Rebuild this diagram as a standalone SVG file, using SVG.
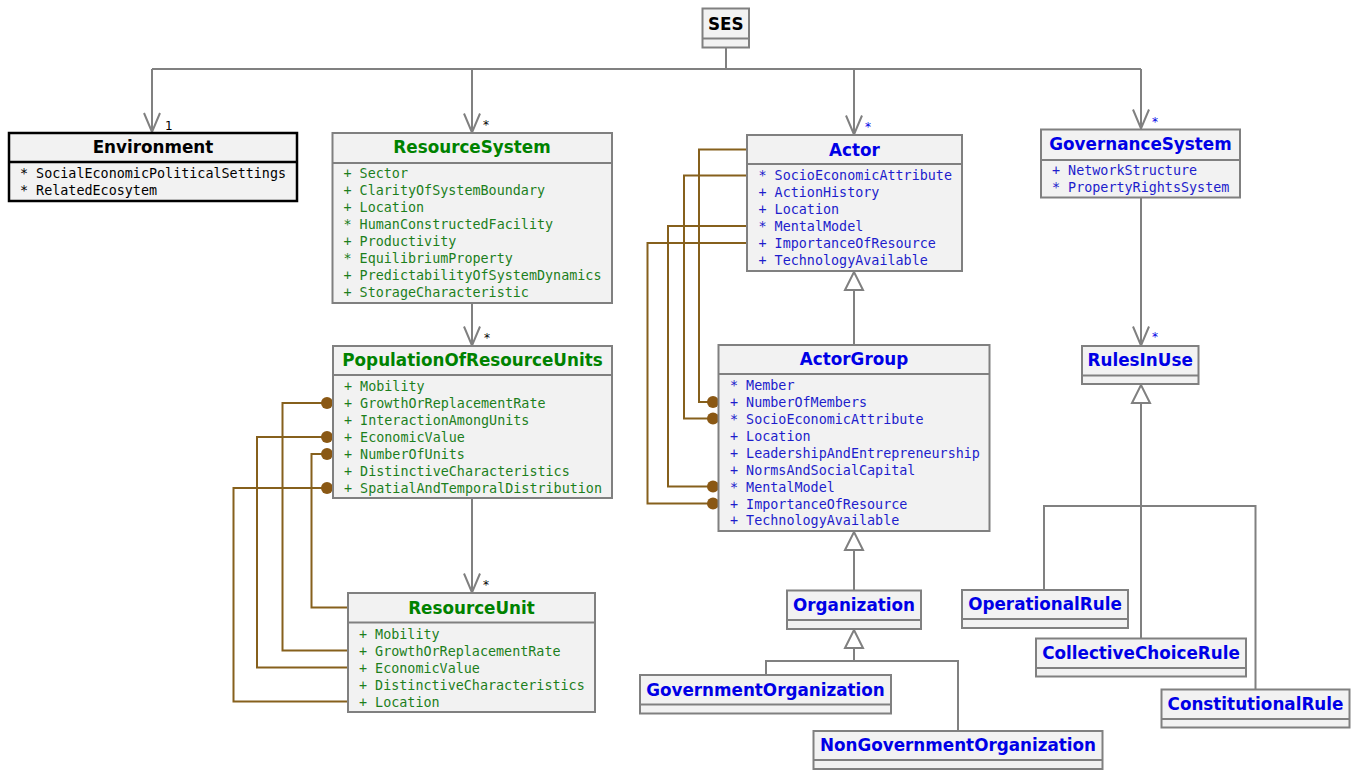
<svg xmlns="http://www.w3.org/2000/svg" width="1351" height="780" viewBox="0 0 1351 780">
<defs>
<marker id="open" markerUnits="userSpaceOnUse" markerWidth="22" markerHeight="20" viewBox="0 0 22 20" refX="20" refY="10" orient="auto">
<path d="M1,2 L20,10 L1,18" fill="none" stroke="#808080" stroke-width="2"/>
</marker>
<marker id="tri" markerUnits="userSpaceOnUse" markerWidth="22" markerHeight="22" viewBox="0 0 22 22" refX="20" refY="11" orient="auto">
<path d="M2,2 L20,11 L2,20 Z" fill="#ffffff" stroke="#808080" stroke-width="2"/>
</marker>
<style>
.box{fill:#f2f2f2;stroke:#808080;stroke-width:2}
.env{fill:#f2f2f2;stroke:#000;stroke-width:2.5}
.div{stroke:#808080;stroke-width:2}
.divk{stroke:#000;stroke-width:2.5}
.t{font-family:"DejaVu Sans","Liberation Sans",sans-serif;font-weight:bold;font-size:16.8px;text-anchor:middle}
.a{font-family:"DejaVu Sans Mono","Liberation Mono",monospace;font-size:13.4px}
.k{fill:#000}
.gt{fill:#008200}
.ga{fill:#1c7f1c}
.bt{fill:#0000e6}
.ba{fill:#1d1dcc}
.m{font-family:"DejaVu Sans","Liberation Sans",sans-serif;font-size:12px}
.c{fill:none;stroke:#808080;stroke-width:2}
.ca{fill:none;stroke:#808080;stroke-width:2;marker-end:url(#open)}
.cg{fill:none;stroke:#808080;stroke-width:2;marker-end:url(#tri)}
.br{fill:none;stroke:#86601c;stroke-width:2}
.dot{fill:#8a5814}
</style>
</defs>
<rect width="1351" height="780" fill="#ffffff"/>
<g id="connectors">
<path class="c" d="M726,47.5 V69 M152,69 H1141"/>
<path class="ca" d="M152,69 V132"/>
<path class="ca" d="M472,69 V132.5"/>
<path class="ca" d="M854,69 V134.5"/>
<path class="ca" d="M1141,69 V128.5"/>
<path class="ca" d="M472,303 V345.5"/>
<path class="ca" d="M472,498 V592.5"/>
<path class="ca" d="M1141,197.5 V345.5"/>
<path class="cg" d="M854,345 V272"/>
<path class="cg" d="M854,590.5 V532"/>
<path class="c" d="M766,675 V661 H958 V731"/>
<path class="cg" d="M854,661 V630"/>
<path class="c" d="M1044,590 V506 H1255.5 V689.5"/>
<path class="cg" d="M1141,638.5 V385"/>
<path class="br" d="M348,607.5 H311.5 V454 H327"/>
<path class="br" d="M348,650.5 H282.5 V403 H327"/>
<path class="br" d="M348,667.5 H257 V437 H327"/>
<path class="br" d="M348,701.5 H233.5 V488 H327"/>
<path class="br" d="M747,149.5 H699 V402 H713"/>
<path class="br" d="M747,175.5 H684 V418.5 H713"/>
<path class="br" d="M747,226 H668 V486.5 H713"/>
<path class="br" d="M747,243 H647.5 V503.5 H713"/>
<circle class="dot" cx="327" cy="403" r="6"/>
<circle class="dot" cx="327" cy="437" r="6"/>
<circle class="dot" cx="327" cy="454" r="6"/>
<circle class="dot" cx="327" cy="488" r="6"/>
<circle class="dot" cx="713" cy="402" r="6"/>
<circle class="dot" cx="713" cy="418.5" r="6"/>
<circle class="dot" cx="713" cy="486.5" r="6"/>
<circle class="dot" cx="713" cy="503.5" r="6"/>
<text class="m k" x="165" y="130">1</text>
<text class="m k" x="483" y="129">*</text>
<text class="m bt" x="865" y="131">*</text>
<text class="m bt" x="1152" y="126">*</text>
<text class="m k" x="484" y="342">*</text>
<text class="m k" x="483" y="589">*</text>
<text class="m bt" x="1152" y="341">*</text>
</g>
<g id="SES">
<rect class="box" x="702.5" y="8.5" width="46.5" height="39"/>
<line class="div" x1="702.5" y1="38.5" x2="749" y2="38.5"/>
<text class="t k" x="725.8" y="29.5">SES</text>
</g>
<g id="Environment">
<rect class="env" x="9" y="133" width="288" height="68"/>
<line class="divk" x1="9" y1="162" x2="297" y2="162"/>
<text class="t k" x="153" y="153">Environment</text>
<text class="a k" x="20" y="178">* SocialEconomicPoliticalSettings</text>
<text class="a k" x="20" y="195">* RelatedEcosytem</text>
</g>
<g id="ResourceSystem">
<rect class="box" x="332.5" y="133" width="279.5" height="170"/>
<line class="div" x1="332.5" y1="163" x2="612" y2="163"/>
<text class="t gt" x="472" y="153">ResourceSystem</text>
<text class="a ga" x="343.5" y="178">+ Sector</text>
<text class="a ga" x="343.5" y="195">+ ClarityOfSystemBoundary</text>
<text class="a ga" x="343.5" y="212">+ Location</text>
<text class="a ga" x="343.5" y="229">* HumanConstructedFacility</text>
<text class="a ga" x="343.5" y="246">+ Productivity</text>
<text class="a ga" x="343.5" y="263">* EquilibriumProperty</text>
<text class="a ga" x="343.5" y="280">+ PredictabilityOfSystemDynamics</text>
<text class="a ga" x="343.5" y="297">+ StorageCharacteristic</text>
</g>
<g id="PopulationOfResourceUnits">
<rect class="box" x="333" y="346" width="279" height="152"/>
<line class="div" x1="333" y1="375" x2="612" y2="375"/>
<text class="t gt" x="472.5" y="366">PopulationOfResourceUnits</text>
<text class="a ga" x="344" y="391">+ Mobility</text>
<text class="a ga" x="344" y="408">+ GrowthOrReplacementRate</text>
<text class="a ga" x="344" y="425">+ InteractionAmongUnits</text>
<text class="a ga" x="344" y="442">+ EconomicValue</text>
<text class="a ga" x="344" y="459">+ NumberOfUnits</text>
<text class="a ga" x="344" y="476">+ DistinctiveCharacteristics</text>
<text class="a ga" x="344" y="493">+ SpatialAndTemporalDistribution</text>
</g>
<g id="ResourceUnit">
<rect class="box" x="348" y="593" width="247" height="119"/>
<line class="div" x1="348" y1="622.5" x2="595" y2="622.5"/>
<text class="t gt" x="471.5" y="613.5">ResourceUnit</text>
<text class="a ga" x="359" y="638.5">+ Mobility</text>
<text class="a ga" x="359" y="655.5">+ GrowthOrReplacementRate</text>
<text class="a ga" x="359" y="672.5">+ EconomicValue</text>
<text class="a ga" x="359" y="689.5">+ DistinctiveCharacteristics</text>
<text class="a ga" x="359" y="706.5">+ Location</text>
</g>
<g id="Actor">
<rect class="box" x="747" y="135" width="215" height="136"/>
<line class="div" x1="747" y1="164" x2="962" y2="164"/>
<text class="t bt" x="854.5" y="155.5">Actor</text>
<text class="a ba" x="758.5" y="180">* SocioEconomicAttribute</text>
<text class="a ba" x="758.5" y="197">+ ActionHistory</text>
<text class="a ba" x="758.5" y="214">+ Location</text>
<text class="a ba" x="758.5" y="231">* MentalModel</text>
<text class="a ba" x="758.5" y="248">+ ImportanceOfResource</text>
<text class="a ba" x="758.5" y="265">+ TechnologyAvailable</text>
</g>
<g id="ActorGroup">
<rect class="box" x="718.5" y="345" width="271" height="186"/>
<line class="div" x1="718.5" y1="374" x2="989.5" y2="374"/>
<text class="t bt" x="854" y="365">ActorGroup</text>
<text class="a ba" x="730" y="390">* Member</text>
<text class="a ba" x="730" y="407">+ NumberOfMembers</text>
<text class="a ba" x="730" y="423.5">* SocioEconomicAttribute</text>
<text class="a ba" x="730" y="440.5">+ Location</text>
<text class="a ba" x="730" y="457.5">+ LeadershipAndEntrepreneurship</text>
<text class="a ba" x="730" y="474.5">+ NormsAndSocialCapital</text>
<text class="a ba" x="730" y="491.5">* MentalModel</text>
<text class="a ba" x="730" y="508.5">+ ImportanceOfResource</text>
<text class="a ba" x="730" y="525">+ TechnologyAvailable</text>
</g>
<g id="Organization">
<rect class="box" x="787" y="590.5" width="134" height="38.5"/>
<line class="div" x1="787" y1="620" x2="921" y2="620"/>
<text class="t bt" x="854" y="611">Organization</text>
</g>
<g id="GovernmentOrganization">
<rect class="box" x="640" y="675" width="251" height="38.5"/>
<line class="div" x1="640" y1="704.5" x2="891" y2="704.5"/>
<text class="t bt" x="765.5" y="696">GovernmentOrganization</text>
</g>
<g id="NonGovernmentOrganization">
<rect class="box" x="813.5" y="731" width="289" height="38"/>
<line class="div" x1="813.5" y1="760" x2="1102.5" y2="760"/>
<text class="t bt" x="958" y="751">NonGovernmentOrganization</text>
</g>
<g id="GovernanceSystem">
<rect class="box" x="1041" y="129.5" width="199" height="68"/>
<line class="div" x1="1041" y1="160" x2="1240" y2="160"/>
<text class="t bt" x="1140.5" y="150">GovernanceSystem</text>
<text class="a ba" x="1052" y="175">+ NetworkStructure</text>
<text class="a ba" x="1052" y="192">* PropertyRightsSystem</text>
</g>
<g id="RulesInUse">
<rect class="box" x="1082" y="346" width="116.5" height="38"/>
<line class="div" x1="1082" y1="375.5" x2="1198.5" y2="375.5"/>
<text class="t bt" x="1140.2" y="366">RulesInUse</text>
</g>
<g id="OperationalRule">
<rect class="box" x="962" y="590" width="166" height="38"/>
<line class="div" x1="962" y1="619" x2="1128" y2="619"/>
<text class="t bt" x="1045" y="610">OperationalRule</text>
</g>
<g id="CollectiveChoiceRule">
<rect class="box" x="1036" y="638.5" width="210" height="38"/>
<line class="div" x1="1036" y1="668" x2="1246" y2="668"/>
<text class="t bt" x="1141" y="659">CollectiveChoiceRule</text>
</g>
<g id="ConstitutionalRule">
<rect class="box" x="1161.5" y="689.5" width="188" height="38"/>
<line class="div" x1="1161.5" y1="719" x2="1349.5" y2="719"/>
<text class="t bt" x="1255.5" y="709.5">ConstitutionalRule</text>
</g>
</svg>
